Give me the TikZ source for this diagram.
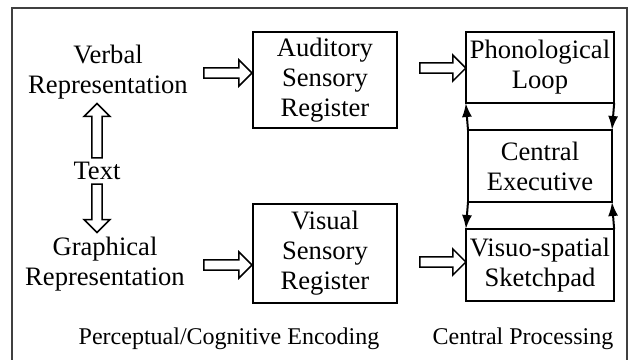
\documentclass[tikz,border=0pt]{standalone}
\usepackage{fontspec}
\setmainfont{Liberation Serif}
\usepackage{tikz}
\usetikzlibrary{calc,positioning,arrows.meta}

\tikzset{
    fatarrow/.style={draw, line width=0.75pt, fill=white, line join=miter},
}
\newcommand{\hollowarrow}[2]{%
    \draw[fatarrow] let \p1=(#1), \p2=(#2),
        \n1={atan2(\y2-\y1,\x2-\x1)}, \n2={veclen(\x2-\x1,\y2-\y1)} in
        {[shift={(\p1)}, rotate=\n1]
        (0pt,-2.6pt) -- ({(\n2-6.5)*1pt},-2.6pt) -- ({(\n2-6.5)*1pt},-6.5pt)
        -- ({\n2*1pt},0pt) -- ({(\n2-6.5)*1pt},6.5pt) -- ({(\n2-6.5)*1pt},2.6pt)
        -- (0pt,2.6pt) -- cycle};%
}

\begin{document}
\begin{tikzpicture}[
                    x=0.5pt, y=-0.5pt,
                    node distance=13.5pt and 1.5cm,
                    txtnode/.style={align=center, font=\fontsize{13.3}{15}\selectfont, inner sep=2pt},
                    capnode/.style={txtnode, font=\fontsize{12}{14}\selectfont},
                    regbox/.style={txtnode, draw, line width=1pt, minimum width=72pt, minimum height=48pt},
                    membox/.style={txtnode, draw, line width=1pt, outer sep=0pt, minimum width=72pt, minimum height=36pt},
                    link/.style={line width=1pt, -{Latex[length=7pt,width=5pt]}},
                    frame/.style={draw=black!75, line width=0.75pt},
                ]
                    \useasboundingbox (0,0) rectangle (629,360);
                    \draw[frame] (12,8) rectangle (627,363);

                    \node[txtnode] (verb) at (108,72) {Verbal\\Representation};
                    \node[txtnode] (txt) at (97,171) {Text};
                    \node[txtnode] (graph) at (105,264) {Graphical\\Representation};

                    \node[regbox] (aud) at (325,80) {Auditory\\Sensory\\Register};
                    \node[regbox, minimum height=49.5pt] (vis) at (325,253.5) {Visual\\Sensory\\Register};

                    \node[membox, minimum height=35.5pt] (phon) at (540,67.5) {Phonological\\Loop};
                    \node[membox, below=of phon] (cent) {Central\\Executive};
                    \node[membox, below=of cent] (vsp) {Visuo-spatial\\Sketchpad};

                    \node[capnode] (enc) at (229,339) {Perceptual/Cognitive Encoding};
                    \node[capnode] (proc) at (523,339) {Central Processing};

                    \coordinate (vtail) at (204,73);
                    \coordinate (gtail) at (204,265);
                    \coordinate (ptail) at (420,68);
                    \coordinate (stail) at (420,262);

                    \hollowarrow{txt.north}{txt.north |- verb.south}
                    \hollowarrow{txt.south}{txt.south |- graph.north}
                    \hollowarrow{vtail}{aud.west |- vtail}
                    \hollowarrow{gtail}{vis.west |- gtail}
                    \hollowarrow{ptail}{phon.west |- ptail}
                    \hollowarrow{stail}{vsp.west |- stail}

                    \draw[link] (cent.north west) -- (phon.south west);
                    \draw[link] (phon.south east) -- (cent.north east);
                    \draw[link] (cent.south west) -- (vsp.north west);
                    \draw[link] (vsp.north east) -- (cent.south east);
                \end{tikzpicture}
\end{document}
